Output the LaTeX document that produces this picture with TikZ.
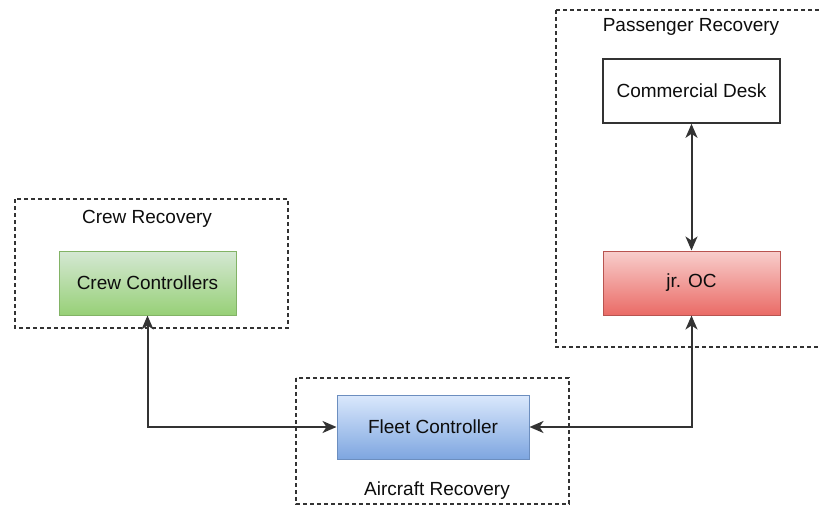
\documentclass[tikz,border=0pt]{standalone}
\usepackage{fontspec}
\setmainfont{Liberation Sans}
\usetikzlibrary{arrows.meta,shadings}
\definecolor{greenTop}{HTML}{D5E8D4}
\definecolor{greenBot}{HTML}{97D077}
\definecolor{greenLine}{HTML}{82B366}
\definecolor{blueTop}{HTML}{DAE8FC}
\definecolor{blueBot}{HTML}{7EA6E0}
\definecolor{blueLine}{HTML}{6C8EBF}
\definecolor{redTop}{HTML}{F8CECC}
\definecolor{redBot}{HTML}{EA6B66}
\definecolor{redLine}{HTML}{B85450}
\definecolor{ink}{HTML}{333333}
\tikzset{
  txt/.style={font=\fontsize{19}{22}\selectfont, text=black!95},
  unit/.style={txt, minimum width=177pt, minimum height=64pt, inner sep=0pt, line width=1pt},
  group/.style={draw=ink, line width=1.6pt, dash pattern=on 4pt off 3pt},
  link/.style={draw=ink, line width=2pt, {Stealth[length=14pt,width=12pt,inset=4pt]}-{Stealth[length=14pt,width=12pt,inset=4pt]}}
}
\begin{document}
\begin{tikzpicture}[x=1pt,y=-1pt]
\useasboundingbox (0,0) rectangle (820,506);
% groups
\draw[group] (15,199) rectangle (288,328);
\draw[group] (556,10) -- (822,10) (556,10) -- (556,347) -- (822,347);
\draw[group] (296,378) rectangle (569,504);
\node[txt] (crewlbl) at (147,219) {Crew Recovery};
\node[txt] (paxlbl) at (691,27) {Passenger Recovery};
\node[txt] (aclbl) at (437,491) {Aircraft Recovery};
% units
\node[unit, draw=greenLine, top color=greenTop, bottom color=greenBot] (cc) at (147.5,283) {Crew Controllers};
\node[unit, draw=ink, line width=1.6pt, fill=white] (cd) at (691.5,91) {Commercial Desk};
\node[unit, draw=redLine, top color=redTop, bottom color=redBot] (jr) at (691.5,283) {jr. OC};
\node[unit, minimum width=192pt, draw=blueLine, top color=blueTop, bottom color=blueBot] (fc) at (433,427) {Fleet Controller};
% connectors
\draw[link] (cc.south) |- (fc.west);
\draw[link] (jr.south) |- (fc.east);
\draw[link] (cd.south) -- (jr.north);
\end{tikzpicture}
\end{document}
